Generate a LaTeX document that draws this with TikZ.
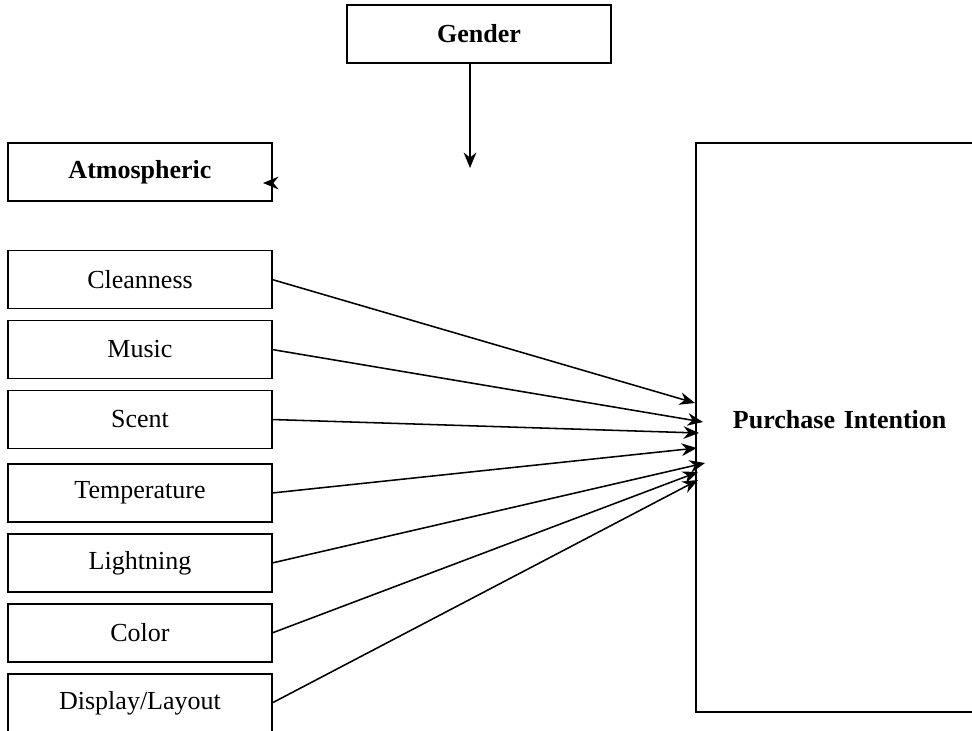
\documentclass[tikz,border=0pt]{standalone}
\usepackage{fontspec}
\setmainfont{Liberation Serif}
\usepackage{tikz}
\usetikzlibrary{arrows.meta}

\tikzset{
  factor/.style={draw, line width=1.3pt, inner sep=0pt, outer sep=0pt,
    minimum width=6.6cm, minimum height=1.45cm,
    font=\fontsize{18.5}{22}\selectfont},
  head/.style={factor, font=\fontsize{18.5}{22}\selectfont\bfseries},
  arr/.style={-{Stealth[length=11pt,width=9pt]}, line width=1.1pt}
}

\begin{document}
\begin{tikzpicture}[x=0.025cm,y=-0.025cm]
        \useasboundingbox (0,0) rectangle (972,730);

        \node[head] (gender) at (479,34) {Gender};
        \node[head] (atmo) at (140,172) {Atmospheric};
        % box runs off the right side of the page
        \node[head, minimum width=7.6cm, minimum height=14.225cm, text width=5.75cm,
              align=left, inner xsep=0.925cm, text depth=0.4cm] (pi) at (848,427.5) {Purchase Intention};

        \foreach \nm/\yy/\txt in {clean/279.5/Cleanness, music/349.5/Music, scent/419.5/Scent,
                temp/493/Temperature, light/563/Lightning, color/633/Color,
                display/703/{Display/Layout}} % edit here for the factors
        \node[factor] (\nm) at (140,\yy) {\txt};

        % arrow tips on purchase intention
        \coordinate (t1) at (695,403);
        \coordinate (t2) at (703,422);
        \coordinate (t3) at (699,433);
        \coordinate (t4) at (697,448);
        \coordinate (t5) at (705,463);
        \coordinate (t6) at (698,472);
        \coordinate (t7) at (698,480);

        \foreach \nm/\t in {clean/t1, music/t2, scent/t3, temp/t4, light/t5, color/t6, display/t7}
        \draw[arr] (\nm.east) -- (\t);

        \coordinate (gtip) at (470,168);
        \draw[arr] (gtip |- gender.south) -- (gtip);

        \coordinate (atip) at (263,183);
        \draw[arr] (atmo.east |- atip) -- (atip);
    \end{tikzpicture}
\end{document}
